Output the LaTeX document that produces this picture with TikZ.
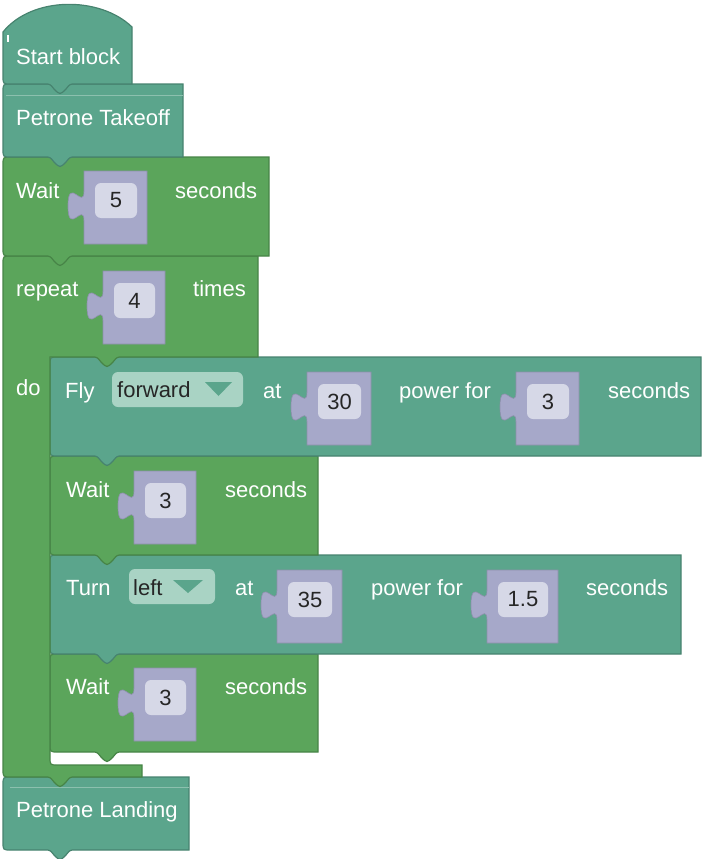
\documentclass[tikz,border=0pt]{standalone}
\usepackage{fontspec}
\setmainfont{Liberation Sans}
\usepackage{tikz}
\usetikzlibrary{positioning}
\definecolor{blkteal}{HTML}{5BA58C}
\definecolor{blktealdk}{HTML}{47836F}
\definecolor{blkgreen}{HTML}{5BA55B}
\definecolor{blkgreendk}{HTML}{478447}
\definecolor{inlav}{HTML}{A6A8C9}
\definecolor{infield}{HTML}{D6D8E7}
\definecolor{menufill}{HTML}{A9D3C4}
\definecolor{valtext}{HTML}{262626}

\newcommand{\stmtblk}[5]{%
  \path[#1] (#4,#3) -- ({#2+8},#3) .. controls (#2,#3) .. (#2,{#3+8})
    -- (#2,{#5-8}) .. controls (#2,#5) .. ({#2+8},#5)
    -- ({#2+42},#5) .. controls ({#2+47},#5) .. ({#2+51},{#5+5})
    .. controls ({#2+57},{#5+11}) .. ({#2+63},{#5+5})
    .. controls ({#2+67},#5) .. ({#2+72},#5) -- (#4,#5) -- cycle;}
\newcommand{\valbox}[5]{%
  \path[inbox] (#1,{#2+20}) .. controls (#1,{#2+40}) and ({#1-16},{#2+4}) .. ({#1-16},{#2+35})
    .. controls ({#1-16},{#2+66}) and (#1,{#2+30}) .. (#1,{#2+50})
    -- (#1,{#2+73}) -- (#3,{#2+73}) -- (#3,#2) -- (#1,#2) -- cycle;
  \path[field] ({#1+11},{#2+12}) rectangle ({#3-10},{#2+47});
  \node[val] (#5) at ({(#1+#3)/2+0.5},{#2+29.5}) {#4};}

\begin{document}
\begin{tikzpicture}[
    x=1pt, y=-1pt,
    tealblk/.style={fill=blkteal, draw=blktealdk, line width=1.2pt},
    greenblk/.style={fill=blkgreen, draw=blkgreendk, line width=1.2pt},
    inbox/.style={fill=inlav, draw=inlav!85!black, line width=0.6pt},
    field/.style={fill=infield, rounded corners=6pt},
    menu/.style={fill=menufill, rounded corners=6pt},
    menutri/.style={fill=blkteal},
    lbl/.style={text=white, font=\fontsize{22}{26}\selectfont, inner sep=0pt, anchor=base west},
    menutext/.style={lbl, text=valtext},
    val/.style={text=valtext, font=\fontsize{22}{26}\selectfont, inner sep=0pt},
]
\useasboundingbox (0,0) rectangle (703,859);

\stmtblk{tealblk}{3}{777}{189}{850}
\draw[blkteal!70!white, line width=0.6pt] (10,787) -- (189,787);
\node[lbl] (landing) at (16,817) {Petrone Landing};

\stmtblk{greenblk}{50}{654}{318}{752}
\node[lbl] (waitD) at (66,694) {Wait};
\valbox{134}{668}{196}{3}{numD}
\node[lbl] (secD) at (225,694) {seconds};

\stmtblk{tealblk}{50}{555}{681}{654}
\node[lbl] (turn) at (66,595) {Turn};
\path[menu] (129,569) rectangle (215,604);
\node[menutext] (dirT) at (133,595) {left};
\path[menutri] (173,580) -- (203,580) -- (188,593) -- cycle;
\node[lbl] (atT) at (235,595) {at};
\valbox{277}{570}{342}{35}{powT}
\node[lbl] (powforT) at (371,595) {power for};
\valbox{487}{570}{558}{1.5}{timeT}
\node[lbl] (secT) at (586,595) {seconds};

\stmtblk{greenblk}{50}{456}{318}{555}
\node[lbl] (waitC) at (66,497) {Wait};
\valbox{134}{471}{196}{3}{numC}
\node[lbl] (secC) at (225,497) {seconds};

\stmtblk{tealblk}{50}{357}{701}{456}
\node[lbl] (fly) at (65,398) {Fly};
\path[menu] (112,372) rectangle (243,407);
\node[menutext] (dirF) at (117,397) {forward};
\path[menutri] (205,382) -- (232,382) -- (218.5,396) -- cycle;
\node[lbl] (atF) at (263,398) {at};
\valbox{307}{372}{371}{30}{powF}
\node[lbl] (powforF) at (399,398) {power for};
\valbox{516}{372}{579}{3}{timeF}
\node[lbl] (secF) at (608,398) {seconds};

\path[greenblk] (258,256) -- (11,256) .. controls (3,256) .. (3,264)
    -- (3,769) .. controls (3,777) .. (11,777)
    -- (45,777) .. controls (50,777) .. (54,782) .. controls (60,788) .. (66,782)
    .. controls (70,777) .. (75,777) -- (142,777) -- (142,765)
    -- (58,765) .. controls (50,765) .. (50,757) -- (50,357)
    -- (92,357) .. controls (97,357) .. (101,362) .. controls (107,368) .. (113,362)
    .. controls (117,357) .. (122,357) -- (258,357) -- cycle;
\node[lbl] (repeat) at (16,296) {repeat};
\valbox{103}{271}{165}{4}{count}
\node[lbl] (times) at (193,296) {times};
\node[lbl] (do) at (16,395) {do};

\stmtblk{greenblk}{3}{157}{269}{256}
\node[lbl] (waitB) at (16,198) {Wait};
\valbox{84}{171}{147}{5}{numB}
\node[lbl] (secB) at (175,198) {seconds};

\stmtblk{tealblk}{3}{84}{183}{157}
\draw[blkteal!70!white, line width=0.6pt] (6,95) -- (183,95);
\node[lbl] (takeoff) at (16,125) {Petrone Takeoff};

\path[tealblk] (132,84) -- (132,27) .. controls (100,-4) and (32,-4) .. (3,32)
    -- (3,76) .. controls (3,84) .. (11,84)
    -- (45,84) .. controls (50,84) .. (54,89) .. controls (60,95) .. (66,89)
    .. controls (70,84) .. (75,84) -- cycle;
\draw[white, line width=1.2pt] (8,35) -- (8,42);
\node[lbl] (start) at (16,64) {Start block};
\end{tikzpicture}
\end{document}
